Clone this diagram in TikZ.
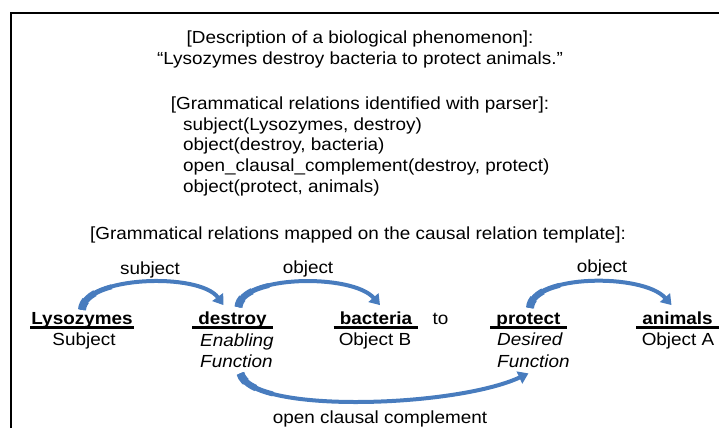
\documentclass[tikz,border=0pt]{standalone}
\usepackage{fontspec}
\setmainfont[FakeStretch=1.08]{Liberation Sans}
\usetikzlibrary{arrows.meta}

\definecolor{arcblue}{RGB}{72,124,190}

\tikzset{
  txt/.style={anchor=base,inner sep=0pt,font=\fontsize{17.5}{21}\selectfont},
  word/.style={txt,font=\fontsize{17.5}{21}\selectfont\bfseries,inner xsep=6pt},
  fn/.style={txt,anchor=base west,font=\fontsize{17.5}{21}\selectfont\itshape},
  uline/.style={line width=3pt},
  tail/.style={preaction={draw=arcblue,arrows=-,line width=#1}},
  relarc/.style={draw=arcblue,line width=4pt,-{Triangle[width=13pt,length=10pt]},
    tail={8pt,dash pattern=on 10pt off 2000pt},
    tail={6.5pt,dash pattern=on 22pt off 2000pt},
    tail={5pt,dash pattern=on 40pt off 2000pt}},
  boxline/.style={line width=1.5pt}
}

\begin{document}
\begin{tikzpicture}[x=1pt,y=-1pt]
    \useasboundingbox (0,0) rectangle (719,428);
    \draw[boxline] (11,428) |- (719,13);

    % sentence and parser output
    \node[txt] (desc) at (360,44) {[Description of a biological phenomenon]:};
    \node[txt] (sent) at (360,64.5) {“Lysozymes destroy bacteria to protect animals.”};
    \node[txt] (parse) at (360,109.3) {[Grammatical relations identified with parser]:};
    \node[txt,anchor=base west] (rel1) at (183,130) {subject(Lysozymes, destroy)};
    \node[txt,anchor=base west] (rel2) at (183,150.7) {object(destroy, bacteria)};
    \node[txt,anchor=base west] (rel3) at (183,171.4) {open\_clausal\_complement(destroy, protect)};
    \node[txt,anchor=base west] (rel4) at (183,192.1) {object(protect, animals)};
    \node[txt] (map) at (358,239.3) {[Grammatical relations mapped on the causal relation template]:};

    % template words
    \node[word,inner xsep=1pt] (lys) at (82,324) {Lysozymes};
    \node[word] (destroy) at (232.5,324) {destroy};
    \node[word] (bact) at (376,324) {bacteria};
    \node[txt] (to) at (440.5,324) {to};
    \node[word] (prot) at (528.5,324) {protect};
    \node[word] (anim) at (677.5,324) {animals};

    \draw[uline] ([yshift=-3.5pt]lys.base west) -- ([yshift=-3.5pt]lys.base east);
    \draw[uline] ([yshift=-3.5pt]destroy.base west) -- ([yshift=-3.5pt]destroy.base east);
    \draw[uline] ([yshift=-3.5pt]bact.base west) -- ([yshift=-3.5pt]bact.base east);
    \draw[uline] ([yshift=-3.5pt]prot.base west) -- ([yshift=-3.5pt]prot.base east);
    \draw[uline] ([yshift=-3.5pt]anim.base west) -- ([yshift=-3.5pt]anim.base east);

    \node[txt] (subjrole) at (84,345.5) {Subject};
    \node[fn] (enab) at (200,346.5) {Enabling};
    \node[fn] (enabfn) at (200,367.5) {Function};
    \node[txt] (objb) at (375,345.5) {Object B};
    \node[fn] (desi) at (497,345.5) {Desired};
    \node[fn] (desifn) at (497,367.5) {Function};
    \node[txt] (obja) at (678,345.5) {Object A};

    % relations
    \draw[relarc] ([yshift=2pt]lys.north) .. controls +(2,-34) and +(-24,-33) .. ([xshift=-9pt,yshift=6pt]destroy.north);
    \draw[relarc] ([xshift=6pt,yshift=4pt]destroy.north) .. controls +(2,-32) and +(-28,-32) .. ([xshift=4pt,yshift=6pt]bact.north);
    \draw[relarc] ([xshift=1.5pt,yshift=4.5pt]prot.north) .. controls +(2,-34) and +(-28,-32) .. ([xshift=-6pt,yshift=6pt]anim.north);
    \draw[relarc] ([xshift=4pt,yshift=-5.5pt]enabfn.south) .. controls +(10,41) and +(-73,34) .. ([xshift=-5pt,yshift=-5.5pt]desifn.south);

    \node[txt] (lsubj) at (150,274) {subject};
    \node[txt] (lobj1) at (308,273) {object};
    \node[txt] (lobj2) at (602,272) {object};
    \node[txt] (lopen) at (380,423) {open clausal complement};
\end{tikzpicture}
\end{document}
